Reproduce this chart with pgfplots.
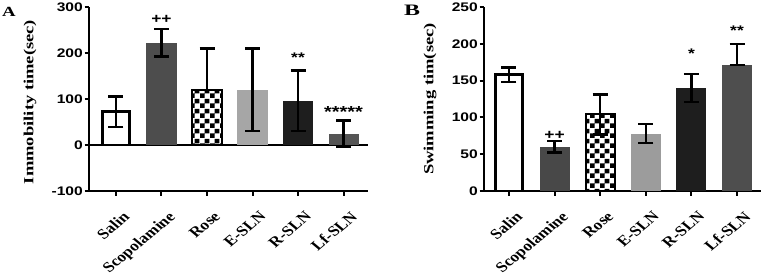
\documentclass[border=0pt]{standalone}
\usepackage{pgfplots}
\pgfplotsset{compat=1.18}
\usepackage{fontspec}
\setmainfont{Liberation Serif}
\newfontfamily\sansb{Liberation Sans}
\usetikzlibrary{patterns}

\pgfdeclarepatternformonly{bigcheck}{\pgfpointorigin}{\pgfpoint{10bp}{10bp}}{\pgfpoint{10bp}{10bp}}{%
  \pgfpathrectangle{\pgfpointorigin}{\pgfpoint{5bp}{5bp}}%
  \pgfpathrectangle{\pgfpoint{5bp}{5bp}}{\pgfpoint{5bp}{5bp}}%
  \pgfusepath{fill}}

\definecolor{scopA}{HTML}{4D4D4D}
\definecolor{esln}{HTML}{A6A6A6}
\definecolor{rsln}{HTML}{1E1E1E}
\definecolor{lfA}{HTML}{555555}
\definecolor{scopB}{HTML}{484848}
\definecolor{eslnB}{HTML}{9C9C9C}
\definecolor{lfB}{HTML}{4E4E4E}

\tikzset{ann/.style={font=\sansb\bfseries\fontsize{14}{14}\selectfont, inner sep=0pt, anchor=north, xscale=1.25}}

\pgfplotsset{
  panel/.style={
    scale only axis, height=184bp,
    axis x line*=bottom, axis y line*=left,
    axis line style={line width=2.2bp, black},
    every tick/.style={black, line width=2bp},
    tick align=outside, major tick length=4.5bp,
    xtick={0,...,5},
    xticklabels={Salin,Scopolamine,Rose,E-SLN,R-SLN,Lf-SLN},
    xticklabel style={font=\bfseries\fontsize{14.5}{14.5}\selectfont, inner sep=0pt,
      anchor=north east, xshift=6bp, yshift=-15bp, xscale=1.2, rotate=45},
    yticklabel style={font=\sansb\bfseries\fontsize{12.5}{12.5}\selectfont,
      inner sep=0pt, xshift=-1.5bp, xscale=1.25},
    /pgf/number format/assume math mode=true,
    ybar, bar width=0.66,
    error bars/y dir=both, error bars/y explicit,
    error bars/error bar style={line width=2.5bp, black},
    error bars/error mark options={rotate=90, mark size=7.5bp, line width=2.5bp, black},
    clip=false,
  },
  b/.style={bar shift=0pt, draw=none, fill=#1},
}

\begin{document}
\begin{tikzpicture}
\path[use as bounding box] (0,0) rectangle (762bp,278bp);

\node[font=\bfseries\fontsize{14}{14}\selectfont, xscale=1.35] at (9bp,266.5bp) {A};
\node[font=\bfseries\fontsize{16}{16}\selectfont, xscale=1.5] at (412bp,268bp) {B};

% Panel A
\begin{axis}[panel, at={(89bp,87bp)}, anchor=south west, width=279bp,
  xmin=-0.593, xmax=5.538, ymin=-100, ymax=300, ytick={-100,0,100,200,300},
  every axis y label/.style={at={(axis description cs:0,0.5)}, xshift=-59bp, yshift=-3bp,
    rotate=90, anchor=center, xscale=1.33, font=\bfseries\fontsize{14}{14}\selectfont},
  ylabel={Immobility time(sec)}]
\draw[line width=2.2bp] (axis cs:-0.593,0) -- (axis cs:5.538,0);
\addplot[b=white, draw=black, line width=2.8bp, bar width=0.59] coordinates {(0,72) +- (0,33)};
\addplot[b=scopA] coordinates {(1,222) +- (0,30)};
\addplot[bar shift=0pt, draw=black, line width=2bp, pattern=bigcheck, pattern color=black, bar width=0.64] coordinates {(2,120) += (0,90) -= (0,0)};
\addplot[b=esln] coordinates {(3,120) +- (0,90)};
\addplot[b=rsln] coordinates {(4,96) +- (0,66)};
\addplot[b=lfA] coordinates {(5,25) +- (0,28)};
\node[ann] at (axis cs:1,283) {++};
\node[ann] at (axis cs:4,200) {**};
\node[ann, font=\sansb\bfseries\fontsize{16}{16}\selectfont] at (axis cs:5,84) {*****};
\end{axis}

% Panel B
\begin{axis}[panel, at={(484bp,87bp)}, anchor=south west, width=277bp,
  xmin=-0.548, xmax=5.526, ymin=0, ymax=250, ytick={0,50,100,150,200,250},
  every axis y label/.style={at={(axis description cs:0,0.5)}, xshift=-54bp, yshift=0bp,
    rotate=90, anchor=center, xscale=1.33, font=\bfseries\fontsize{14}{14}\selectfont},
  ylabel={Swimming tim(sec)}]
\addplot[b=white, draw=black, line width=2.8bp, bar width=0.59] coordinates {(0,158) +- (0,10)};
\addplot[b=scopB] coordinates {(1,60) +- (0,8)};
\addplot[bar shift=0pt, draw=black, line width=2bp, pattern=bigcheck, pattern color=black, bar width=0.64] coordinates {(2,104) +- (0,27)};
\addplot[b=eslnB] coordinates {(3,78) +- (0,13)};
\addplot[b=rsln] coordinates {(4,140) +- (0,19)};
\addplot[b=lfB] coordinates {(5,171) += (0,29) -= (0,0)};
\node[ann] at (axis cs:1,82) {++};
\node[ann] at (axis cs:4,194) {*};
\node[ann] at (axis cs:5,224.5) {**};
\end{axis}
\end{tikzpicture}
\end{document}
